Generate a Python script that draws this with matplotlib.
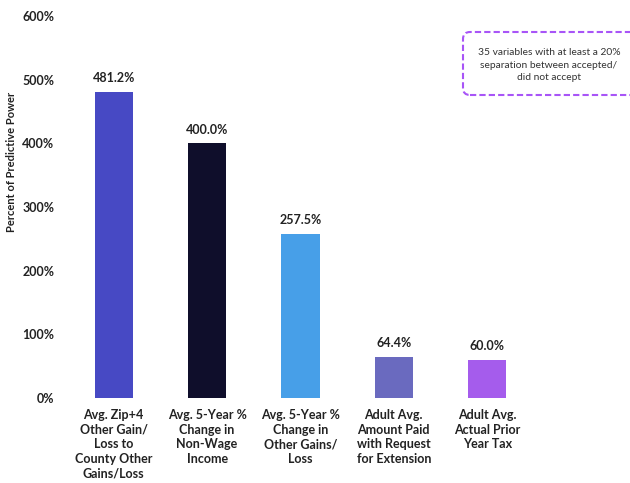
import matplotlib
matplotlib.use("Agg")
import matplotlib.pyplot as plt
from matplotlib.patches import FancyBboxPatch

categories = [
    "Avg. Zip+4\nOther Gain/\nLoss to\nCounty Other\nGains/Loss",
    "Avg. 5-Year %\nChange in\nNon-Wage\nIncome",
    "Avg. 5-Year %\nChange in\nOther Gains/\nLoss",
    "Adult Avg.\nAmount Paid\nwith Request\nfor Extension",
    "Adult Avg.\nActual Prior\nYear Tax",
]
values = [481.2, 400.0, 257.5, 64.4, 60.0]
value_labels = ["481.2%", "400.0%", "257.5%", "64.4%", "60.0%"]
colors = ["#4749c4", "#0f0e2b", "#479fe8", "#6a6abf", "#a55cec"]
yticks = [0, 100, 200, 300, 400, 500, 600]
note = "35 variables with at least a 20%\nseparation between accepted/\ndid not accept"

plt.rcParams["font.family"] = ["Lato", "DejaVu Sans"]

fig = plt.figure(figsize=(6.3, 4.83), dpi=100)
ax = fig.add_axes([68 / 630, 85 / 483, 1 - 68 / 630, 382 / 483])

x = list(range(len(values)))
ax.bar(x, values, width=0.41, color=colors)
for xi, v, lab in zip(x, values, value_labels):
    ax.text(xi, v + 12, lab, ha="center", va="bottom", fontsize=9,
            fontweight="bold", color="#222222")

ax.set_xlim(-0.49, 5.53)
ax.set_ylim(0, 600)
ax.set_yticks(yticks)
ax.set_yticklabels([f"{t}%" for t in yticks], fontsize=9, fontweight="bold",
                   color="#222222")
ax.set_xticks(x)
ax.set_xticklabels(categories, fontsize=9, fontweight="bold", color="#222222",
                   linespacing=1.25)
ax.tick_params(axis="both", length=0)
ax.tick_params(axis="x", pad=8)
ax.tick_params(axis="y", pad=10)
for s in ax.spines.values():
    s.set_visible(False)

fig.text(12 / 630, 1 - 162 / 483, "Percent of Predictive Power", rotation=90,
         ha="center", va="center", fontsize=8, fontweight="bold", color="#222222")

# dashed note box, runs off the right edge
box = FancyBboxPatch((4.63, 3.88), 1.9, 0.63,
                     boxstyle="round,pad=0,rounding_size=0.07",
                     transform=fig.dpi_scale_trans, facecolor="white",
                     edgecolor="#a855f7", linestyle=(0, (3, 1.5)), linewidth=1.5)
fig.patches.append(box)
fig.text(549 / 630, 1 - 65 / 483, note, ha="center", va="center", fontsize=7.4,
         color="#333333", linespacing=1.45)

fig.savefig("out.png", dpi=100)
